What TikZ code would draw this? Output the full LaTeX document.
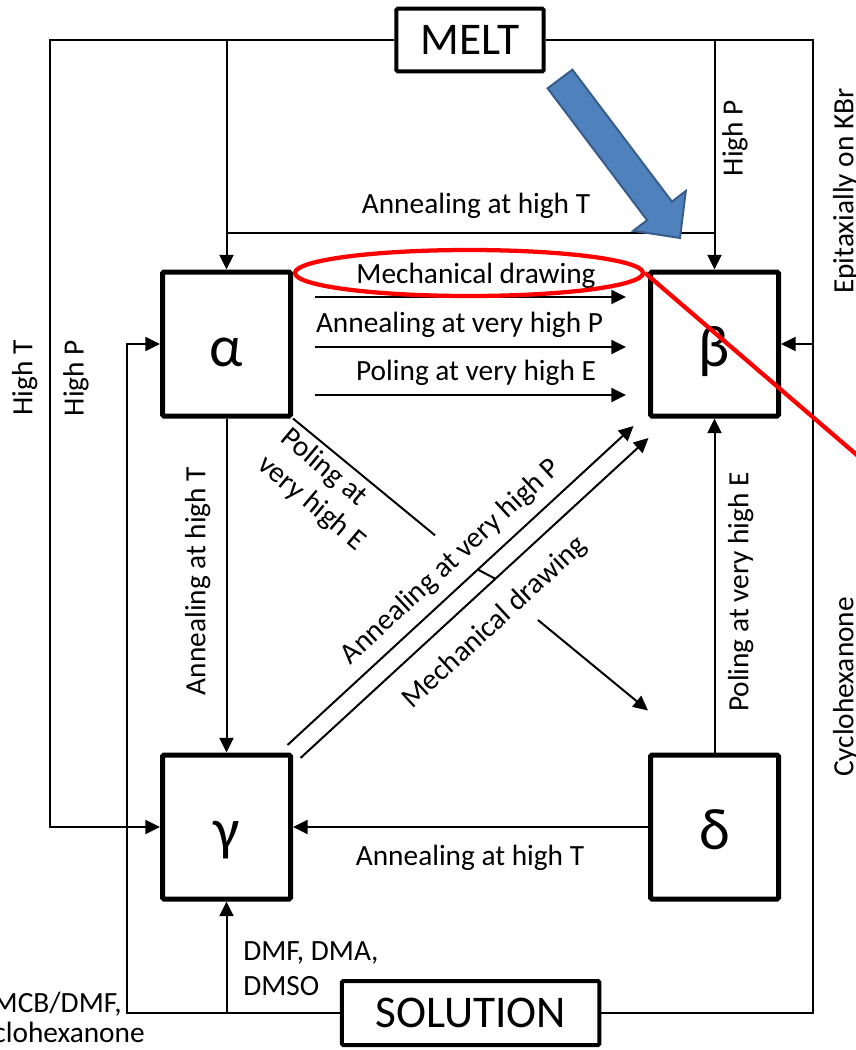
\documentclass[tikz,border=0pt]{standalone}
\usepackage{fontspec}
\setmainfont{Carlito}
\usetikzlibrary{arrows.meta,calc,shapes.geometric}
\definecolor{arrowblue}{HTML}{4F81BD}
\definecolor{arrowedge}{HTML}{385D8A}
\begin{document}
\begin{tikzpicture}[x=0.75pt,y=-0.75pt,
  conn/.style={line width=1.5pt},
  arr/.style={conn,-{Triangle[length=11pt,width=10.5pt]}},
  phase/.style={draw,line width=3.75pt,rounded corners=1pt,minimum width=96pt,minimum height=108pt,inner sep=0pt,text height=33pt,text depth=0pt,font=\fontsize{44}{50}\selectfont},
  src/.style={draw,line width=3pt,rounded corners=1pt,inner sep=0pt,font=\fontsize{34}{40}\selectfont},
  lbl/.style={inner sep=0pt,font=\fontsize{22}{26.6}\selectfont},
  hilite/.style={draw=red,line width=3.2pt},
]
\useasboundingbox (0,0) rectangle (856,1050);
\fill[white] (0,0) rectangle (856,1050);

% sources and phases
\node[src,minimum width=110.6pt,minimum height=46.9pt] (melt) at (470,40) {MELT};
\node[src,minimum width=193.1pt,minimum height=48pt] (solution) at (470.7,1013) {SOLUTION};
\node[phase] (a) at (226.5,344) {α};
\node[phase] (b) at (714.5,344) {β};
\node[phase] (g) at (226.5,827) {γ};
\node[phase] (d) at (714.5,827) {δ};

% helper coordinates
\coordinate (xL) at (50,0);
\coordinate (xM) at (127,0);
\coordinate (xR) at (813,0);
\coordinate (yA) at (0,233);

% melt connectors
\draw[arr] (melt.west) -- (melt.west -| xL) |- (g.west);
\draw[arr] (melt.west -| a.north) -- (a.north);
\draw[conn] (a.north |- yA) -- (b.north |- yA);
\draw[arr] (melt.east) -| (b.north);
\draw[conn] (melt.east) -- (melt.east -| xR) |- (solution.east);
\draw[arr] (b.east -| xR) -- (b.east);

% solution connectors
\draw[arr] (solution.west) -| (a.west -| xM) -- (a.west);
\draw[arr] (solution.west -| g.south) -- (g.south);

% phase transitions
\draw[arr] (a.south) -- (g.north);
\draw[arr] (d.north) -- (b.south);
\draw[arr] (d.west) -- (g.east);
\draw[arr] ($(a.east)+(21.5,-47)$) -- ($(b.west)+(-22,-47)$);
\draw[arr] ($(a.east)+(21.5,3)$) -- ($(b.west)+(-22,3)$);
\draw[arr] ($(a.east)+(21.5,51)$) -- ($(b.west)+(-22,51)$);

\coordinate (pe) at ($(d.north west)+(0,-42)$);
\draw[conn] (a.south east) -- ($(a.south east)!0.40!(pe)$);
\draw[arr] ($(a.south east)!0.69!(pe)$) -- (pe);

\coordinate (p1s) at ($(g.north east)+(-5.5,-7.5)$);
\coordinate (p1e) at ($(b.south west)+(-14.5,7.5)$);
\coordinate (p2s) at ($(g.north east)+(7.5,5.5)$);
\coordinate (p2e) at ($(b.south west)+(0.5,19.5)$);
\draw[arr] (p1s) -- (p1e);
\draw[arr] (p2s) -- (p2e);
\draw[conn] ($(p1s)!0.55!(p1e)$) -- ($(p2s)!0.56!(p2e)$);

% labels
\node[lbl,anchor=base] (lat) at (476,213) {Annealing at high T};
\node[lbl,anchor=base] (lmd) at (476,283) {Mechanical drawing};
\node[lbl,anchor=base] (lap) at (459.5,332) {Annealing at very high P};
\node[lbl,anchor=base] (lpe) at (476,380) {Poling at very high E};
\node[lbl,anchor=base] (lat2) at (470,865) {Annealing at high T};
\node[lbl,anchor=base west] (ldmf) at (243,960) {DMF, DMA,};
\node[lbl,anchor=base west] (ldmso) at (243,995) {DMSO};
\node[lbl,anchor=base east] (lmcb) at (122,1012) {MCB/DMF,};
\node[lbl,anchor=base east] (lcyc) at (145,1042) {clohexanone};

\node[lbl,rotate=90] (lht) at (24.6,378) {High T};
\node[lbl,rotate=90] (lhp) at (76,378) {High P};
\node[lbl,rotate=90] (lhp2) at (735,138) {High P};
\node[lbl,rotate=90] (lepi) at (845.6,191) {Epitaxially on KBr};
\node[lbl,rotate=90] (lag) at (197.6,581) {Annealing at high T};
\node[lbl,rotate=90] (ldb) at (740.6,592) {Poling at very high E};
\node[lbl,rotate=90] (lcy) at (845.6,687) {Cyclohexanone};

\node[lbl,rotate=-40,align=left] (lpd) at (323,490) {Poling at\\very high E};
\node[lbl,rotate=42.8] (lgb1) at (451,562) {Annealing at very high P};
\node[lbl,rotate=42.8] (lgb2) at (495,623) {Mechanical drawing};

% blue block arrow
\draw[draw=arrowedge,fill=arrowblue,line width=1.5pt,line join=miter]
  (572.4,69.7) -- (671.9,201.6) -- (685.8,191.0) -- (680,238) -- (633.2,230.8) -- (647.1,220.2) -- (547.6,88.3) -- cycle;

% red highlight
\node[hilite,ellipse,minimum width=261pt,minimum height=34.5pt,inner sep=0pt] (hl) at (469,273) {};
\coordinate (rz) at (900,492);
\draw[hilite] (hl.east) -- (rz);
\end{tikzpicture}
\end{document}
